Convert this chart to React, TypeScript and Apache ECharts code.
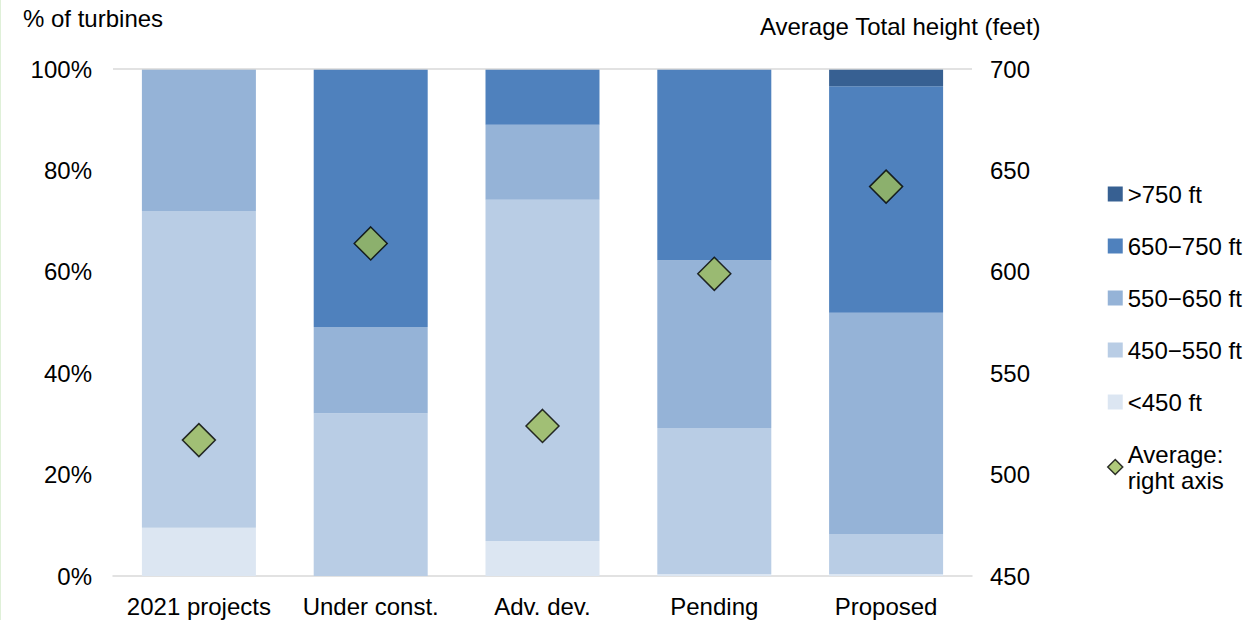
import React, { useEffect, useRef } from "react";
import * as echarts from "echarts";

const categories = ["2021 projects", "Under const.", "Adv. dev.", "Pending", "Proposed"];
const seriesNames = ["<450 ft", "450\u2212550 ft", "550\u2212650 ft", "650\u2212750 ft", ">750 ft"];
const lt450 = [9.5, 0, 6.9, 0.4, 0.4];
const h450_550 = [62.5, 32.1, 67.3, 28.8, 7.9];
const h550_650 = [28.0, 17.0, 14.8, 33.1, 43.6];
const h650_750 = [0, 50.9, 11.0, 37.7, 44.7];
const gt750 = [0, 0, 0, 0, 3.4];
const averageHeight = [517, 614, 524, 599, 642];
const leftTicks = [0, 20, 40, 60, 80, 100];
const rightTicks = [450, 500, 550, 600, 650, 700];

const colors = ["#dce6f2", "#b9cde5", "#95b3d7", "#4f81bd", "#376092"];
const stackValues = [lt450, h450_550, h550_650, h650_750, gt750];
const FONT = "'Liberation Sans', Arial, sans-serif";
const FS = 24;

export default function App() {
  const ref = useRef<HTMLDivElement>(null);
  useEffect(() => {
    const chart = echarts.init(ref.current!, undefined, { renderer: "svg" });
    const barSeries = seriesNames.map((name, i) => ({
      name,
      type: "bar",
      stack: "total",
      yAxisIndex: 0,
      barWidth: 114,
      itemStyle: { color: colors[i] },
      data: stackValues[i],
    }));
    chart.setOption({
      animation: false,
      textStyle: { fontFamily: FONT },
      grid: { left: 113, right: 276, top: 69, bottom: 44, containLabel: false },
      graphic: [
        { type: "line", shape: { x1: 0.5, y1: 0, x2: 0.5, y2: 620 }, style: { stroke: "#dff0d8", lineWidth: 1 } },
        { type: "text", left: 23, top: 6, style: { text: "% of turbines", fontSize: FS, fontFamily: FONT, fill: "#000" } },
        { type: "text", right: 207, top: 14, style: { text: "Average Total height (feet)", fontSize: FS, fontFamily: FONT, fill: "#000" } },
      ],
      legend: {
        orient: "vertical",
        left: 1102,
        top: 176,
        itemWidth: 15,
        itemHeight: 15,
        itemGap: 26,
        textStyle: { fontSize: FS, fontFamily: FONT, color: "#000", lineHeight: 26 },
        data: [
          { name: ">750 ft", icon: "rect" },
          { name: "650\u2212750 ft", icon: "rect" },
          { name: "550\u2212650 ft", icon: "rect" },
          { name: "450\u2212550 ft", icon: "rect" },
          { name: "<450 ft", icon: "rect" },
          { name: "Average:\nright axis", icon: "diamond", itemStyle: { borderWidth: 1.5, borderColor: "#000" } },
        ],
      },
      xAxis: {
        type: "category",
        data: categories,
        axisLine: { lineStyle: { color: "#d9d9d9", width: 1.5 } },
        axisTick: { show: false },
        axisLabel: { fontSize: FS, color: "#000", margin: 18, fontFamily: FONT, interval: 0 },
      },
      yAxis: [
        {
          type: "value",
          min: leftTicks[0],
          max: leftTicks[leftTicks.length - 1],
          interval: 20,
          axisLine: { show: false },
          axisTick: { show: false },
          splitLine: { show: false },
          axisLabel: { fontSize: FS, color: "#000", margin: 21, formatter: "{value}%", fontFamily: FONT },
        },
        {
          type: "value",
          min: rightTicks[0],
          max: rightTicks[rightTicks.length - 1],
          interval: 50,
          position: "right",
          axisLine: { show: false },
          axisTick: { show: false },
          splitLine: { show: false },
          axisLabel: { fontSize: FS, color: "#000", margin: 18, fontFamily: FONT },
        },
      ],
      series: [
        ...barSeries,
        {
          name: "Average:\nright axis",
          type: "scatter",
          yAxisIndex: 1,
          symbol: "diamond",
          symbolSize: 33,
          itemStyle: { color: "#9bbb59", borderColor: "#000", borderWidth: 1.5 },
          data: averageHeight,
          z: 5,
        },
        {
          type: "line",
          yAxisIndex: 0,
          silent: true,
          data: [],
          markLine: {
            silent: true,
            symbol: "none",
            label: { show: false },
            lineStyle: { color: "#d9d9d9", width: 1.5, type: "solid" },
            data: [{ yAxis: 100 }],
          },
        },
      ],
    });
    return () => chart.dispose();
  }, []);
  return <div ref={ref} style={{ width: 1248, height: 620, position: "absolute", left: 0, top: 0 }} />;
}
